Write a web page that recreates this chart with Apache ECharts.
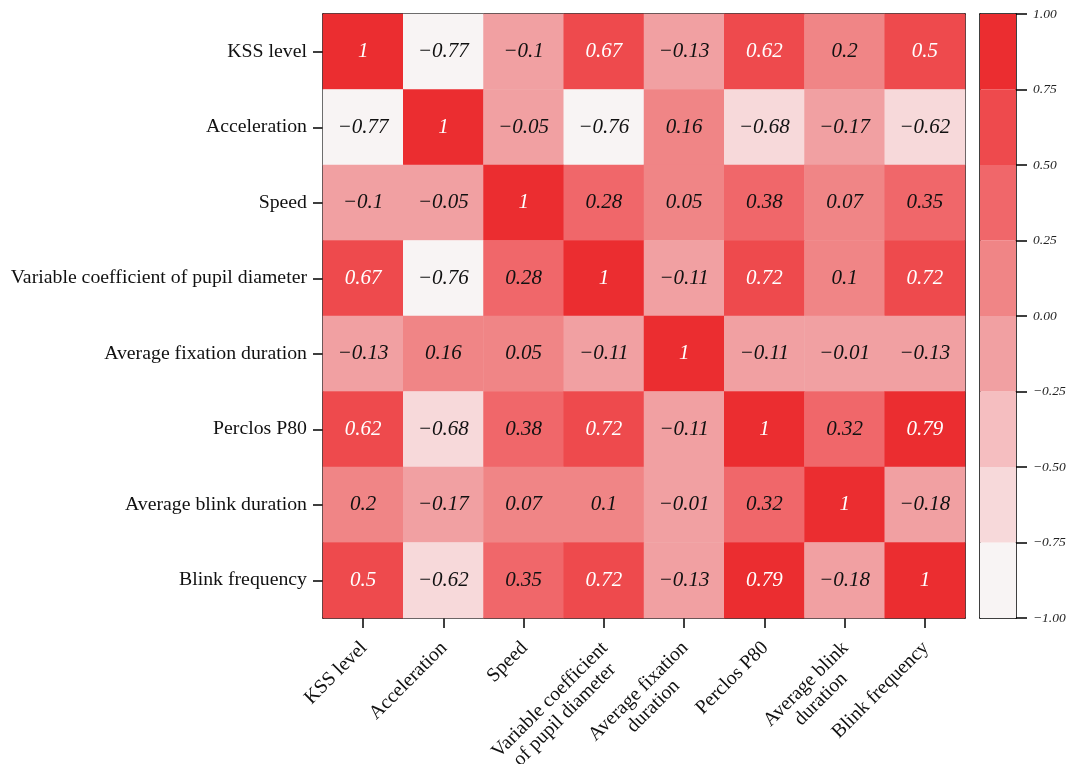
<!DOCTYPE html>
<html>
<head>
<meta charset="utf-8">
<script src="https://cdn.jsdelivr.net/npm/echarts@6/dist/echarts.min.js"></script>
<style>
  html, body { margin: 0; padding: 0; background: #fff; }
  #chart { width: 1069px; height: 764px; }
</style>
</head>
<body>
<div id="chart"></div>
<script>
// Variable names (rows top to bottom, columns left to right)
const categories = [
  'KSS level', 'Acceleration', 'Speed', 'Variable coefficient of pupil diameter',
  'Average fixation duration', 'Perclos P80', 'Average blink duration', 'Blink frequency'
];
// Column labels, wrapped for the rotated bottom axis
const columnLabels = [
  'KSS level', 'Acceleration', 'Speed', 'Variable coefficient\nof pupil diameter',
  'Average fixation\nduration', 'Perclos P80', 'Average blink\nduration', 'Blink frequency'
];
// Pearson correlation matrix
const corr = [
  [1, -0.77, -0.1, 0.67, -0.13, 0.62, 0.2, 0.5],
  [-0.77, 1, -0.05, -0.76, 0.16, -0.68, -0.17, -0.62],
  [-0.1, -0.05, 1, 0.28, 0.05, 0.38, 0.07, 0.35],
  [0.67, -0.76, 0.28, 1, -0.11, 0.72, 0.1, 0.72],
  [-0.13, 0.16, 0.05, -0.11, 1, -0.11, -0.01, -0.13],
  [0.62, -0.68, 0.38, 0.72, -0.11, 1, 0.32, 0.79],
  [0.2, -0.17, 0.07, 0.1, -0.01, 0.32, 1, -0.18],
  [0.5, -0.62, 0.35, 0.72, -0.13, 0.79, -0.18, 1]
];
// Colour scale: bin edges (also the colour bar tick labels) and bin colours
const binEdges = [-1, -0.75, -0.5, -0.25, 0, 0.25, 0.5, 0.75, 1];
const binColors = ['#F8F4F4', '#F7D9DA', '#F5BEC0', '#F1A0A2', '#F08586', '#F0676A', '#EE4A4D', '#EB2D30'];

const minus = s => String(s).replace('-', '\u2212');
const serif = 'Liberation Serif';
const axisFontSize = 19.8;

// Width of each wrapped column label, so its lines can be centred in one block
const measureCtx = document.createElement('canvas').getContext('2d');
measureCtx.font = axisFontSize + 'px "' + serif + '"';
const colRich = {};
columnLabels.forEach((label, i) => {
  const w = Math.max(...label.split('\n').map(l => measureCtx.measureText(l).width));
  colRich['c' + i] = {
    width: Math.ceil(w), align: 'center', fontFamily: serif, fontSize: axisFontSize,
    color: '#111', lineHeight: 21
  };
});

const cells = [];
corr.forEach((row, r) => row.forEach((v, c) => {
  cells.push({
    value: [c, r, v],
    label: { color: v >= 0.5 ? '#ffffff' : '#111111' }
  });
}));

const pieces = binColors.map((color, i) => ({
  gte: binEdges[i], lt: i === binColors.length - 1 ? 1.0001 : binEdges[i + 1], color
}));

const barData = binColors.map((color, i) => [binEdges[i], binEdges[i + 1], i]);

const lineStyle = { color: '#000', width: 1.5 };
const frameAxis = {
  axisLine: { show: true, onZero: false, lineStyle },
  axisTick: { show: false }, axisLabel: { show: false }, splitLine: { show: false }
};

const chart = echarts.init(document.getElementById('chart'), null, { renderer: 'canvas' });
chart.setOption({
  backgroundColor: '#ffffff',
  animation: false,
  grid: [
    { left: 323, top: 14, width: 642, height: 604, containLabel: false, outerBoundsMode: 'none' },
    { left: 980, top: 14, width: 36, height: 604, containLabel: false, outerBoundsMode: 'none' }
  ],
  xAxis: [
    {
      type: 'category', gridIndex: 0, data: columnLabels, position: 'bottom',
      axisLine: { show: true, onZero: false, lineStyle },
      axisTick: { show: true, alignWithLabel: true, length: 10, lineStyle },
      axisLabel: {
        rotate: 45, margin: 13, interval: 0, fontFamily: serif, fontSize: axisFontSize, color: '#111',
        align: 'right', verticalAlign: 'top', lineHeight: 21, padding: [0, 9, 0, 0],
        formatter: (value, index) => value.split('\n').map(l => '{c' + index + '|' + l + '}').join('\n'),
        rich: colRich
      },
      splitLine: { show: false }
    },
    Object.assign({ type: 'category', gridIndex: 0, data: columnLabels, position: 'top' }, frameAxis),
    Object.assign({ type: 'value', gridIndex: 1, min: 0, max: 1, position: 'bottom' }, frameAxis),
    Object.assign({ type: 'value', gridIndex: 1, min: 0, max: 1, position: 'top' }, frameAxis)
  ],
  yAxis: [
    {
      type: 'category', gridIndex: 0, data: categories, inverse: true, position: 'left',
      axisLine: { show: true, onZero: false, lineStyle },
      axisTick: { show: true, alignWithLabel: true, length: 10, lineStyle },
      axisLabel: { margin: 16, fontFamily: serif, fontSize: axisFontSize, color: '#111' }
    },
    Object.assign({ type: 'category', gridIndex: 0, data: categories, inverse: true, position: 'right' }, frameAxis),
    {
      type: 'value', gridIndex: 1, min: -1, max: 1, interval: 0.25, position: 'right',
      axisLine: { show: true, onZero: false, lineStyle },
      axisTick: { show: true, length: 11, lineStyle },
      axisLabel: {
        margin: 17, fontFamily: serif, fontStyle: 'italic', fontSize: 13.5, color: '#222',
        formatter: v => minus(v.toFixed(2))
      },
      splitLine: { show: false }
    },
    Object.assign({ type: 'value', gridIndex: 1, min: -1, max: 1, interval: 0.25, position: 'left' }, frameAxis)
  ],
  visualMap: {
    type: 'piecewise', show: false, seriesIndex: 0, dimension: 2, pieces
  },
  series: [
    {
      type: 'heatmap', xAxisIndex: 0, yAxisIndex: 0, data: cells, z: 1,
      label: {
        show: true, fontFamily: serif, fontStyle: 'italic', fontSize: 21,
        formatter: p => minus(p.value[2])
      },
      itemStyle: { borderWidth: 0 },
      emphasis: { disabled: true }
    },
    {
      type: 'custom', xAxisIndex: 2, yAxisIndex: 2, data: barData, z: 1,
      renderItem: (params, api) => {
        const lo = api.value(0), hi = api.value(1), idx = api.value(2);
        const p0 = api.coord([0, hi]);
        const p1 = api.coord([1, lo]);
        return {
          type: 'rect',
          shape: { x: p0[0], y: p0[1], width: p1[0] - p0[0], height: p1[1] - p0[1] },
          style: { fill: binColors[idx] }
        };
      }
    }
  ]
});
</script>
</body>
</html>
